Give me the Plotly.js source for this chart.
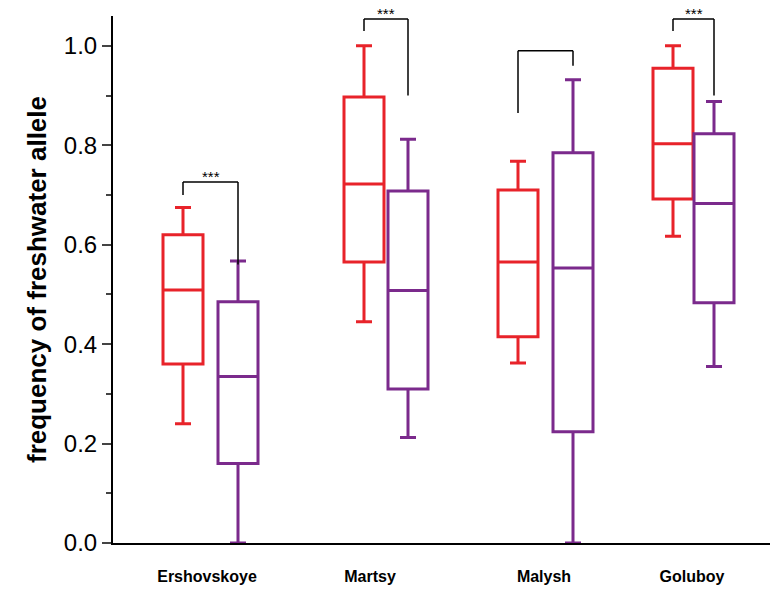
<!DOCTYPE html>
<html>
<head>
<meta charset="utf-8">
<script src="https://cdn.plot.ly/plotly-3.0.1.min.js"></script>
<style>body{margin:0;background:#fff}#chart{width:780px;height:608px}</style>
</head>
<body>
<div id="chart"></div>
<script>
// sites and the two groups
const sites = ['Ershovskoye', 'Martsy', 'Malysh', 'Goluboy'];
const sitePos = [207, 370, 544, 692];
const redPos = [183, 364, 518, 673];
const purplePos = [238, 408, 573, 714];

const redLow = [0.24, 0.445, 0.362, 0.617];
const redQ1 = [0.36, 0.565, 0.415, 0.692];
const redMed = [0.509, 0.722, 0.565, 0.803];
const redQ3 = [0.62, 0.897, 0.71, 0.955];
const redHigh = [0.675, 1.0, 0.768, 1.0];

const purpleLow = [0.0, 0.212, 0.0, 0.355];
const purpleQ1 = [0.16, 0.31, 0.224, 0.483];
const purpleMed = [0.335, 0.508, 0.553, 0.683];
const purpleQ3 = [0.485, 0.708, 0.785, 0.823];
const purpleHigh = [0.567, 0.812, 0.932, 0.888];

// significance brackets: bar height, left end, right end, label
const brTop = [0.726, 1.054, 0.99, 1.054];
const brLeft = [0.70, 1.03, 0.865, 1.03];
const brRight = [0.56, 0.90, 0.96, 0.90];
const brLabel = ['***', '***', '', '***'];

function boxTrace(x, lo, q1, med, q3, hi, color) {
  return {
    type: 'box', x: x, lowerfence: lo, q1: q1, median: med, q3: q3, upperfence: hi,
    width: 40, whiskerwidth: 0.4, fillcolor: 'rgba(0,0,0,0)',
    line: { color: color, width: 3 }, hoverinfo: 'skip'
  };
}

const data = [
  boxTrace(redPos, redLow, redQ1, redMed, redQ3, redHigh, '#e8232a'),
  boxTrace(purplePos, purpleLow, purpleQ1, purpleMed, purpleQ3, purpleHigh, '#7b2a8c')
];

const shapes = [];
const annotations = [];
sites.forEach((s, i) => {
  const ln = { color: '#000', width: 1.5 };
  shapes.push({ type: 'line', x0: redPos[i], x1: purplePos[i], y0: brTop[i], y1: brTop[i], line: ln });
  shapes.push({ type: 'line', x0: redPos[i], x1: redPos[i], y0: brTop[i], y1: brLeft[i], line: ln });
  shapes.push({ type: 'line', x0: purplePos[i], x1: purplePos[i], y0: brTop[i], y1: brRight[i], line: ln });
  if (brLabel[i]) {
    annotations.push({ x: (redPos[i] + purplePos[i]) / 2, y: brTop[i], text: brLabel[i],
      showarrow: false, yanchor: 'bottom', yshift: -5, font: { size: 15, color: '#000' } });
  }
});

const layout = {
  width: 780, height: 608,
  margin: { l: 113, r: 10, t: 16, b: 65 },
  paper_bgcolor: '#fff', plot_bgcolor: '#fff',
  showlegend: false,
  font: { family: 'Liberation Sans, Arial, sans-serif', color: '#000' },
  shapes: shapes, annotations: annotations,
  xaxis: {
    range: [113, 770], tickvals: sitePos, ticktext: sites,
    showline: true, linecolor: '#000', linewidth: 2, ticks: 'outside', ticklen: 18, tickcolor: 'rgba(0,0,0,0)',
    showgrid: false, zeroline: false,
    tickfont: { size: 16, weight: 'bold' }
  },
  yaxis: {
    range: [0, 1.06], tickvals: [0, 0.2, 0.4, 0.6, 0.8, 1.0],
    ticktext: ['0.0', '0.2', '0.4', '0.6', '0.8', '1.0'],
    showline: true, linecolor: '#000', linewidth: 2, ticks: 'outside', ticklen: 9, tickwidth: 2,
    minor: { dtick: 0.1, ticks: 'outside', ticklen: 5, tickwidth: 2 },
    showgrid: false, zeroline: false, tickfont: { size: 24 },
    title: { text: 'frequency of freshwater allele', font: { size: 26, weight: 'bold' }, standoff: 10 }
  }
};

Plotly.newPlot('chart', data, layout, { displayModeBar: false });
</script>
</body>
</html>
